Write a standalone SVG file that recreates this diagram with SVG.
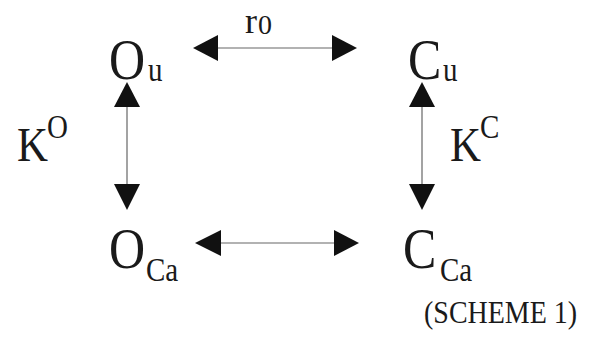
<svg xmlns="http://www.w3.org/2000/svg" width="600" height="341" viewBox="0 0 600 341">
<style>
text{font-family:"Liberation Serif","Times New Roman",serif;fill:#1a1a1a}
.big{font-size:50px}
.sub{font-size:29px}
.k{font-size:43px}
.sup{font-size:29px}
.line{stroke:#666;stroke-width:1.2;fill:none}
.head{fill:#111}
</style>
<rect width="600" height="341" fill="#fff"/>
<g id="connectors">
<g id="top">
<line class="line" x1="218" y1="48" x2="332" y2="48"/>
<polygon class="head" points="193,48 218,35 218,61"/>
<polygon class="head" points="357,48 332,35 332,61"/>
</g>
<g id="bottom">
<line class="line" x1="221" y1="243" x2="334" y2="243"/>
<polygon class="head" points="195,243 221,230 221,256"/>
<polygon class="head" points="359,243 334,230 334,256"/>
</g>
<g id="left">
<line class="line" x1="127" y1="107" x2="127" y2="184"/>
<polygon class="head" points="127,82 114,107 140,107"/>
<polygon class="head" points="127,210 114,184 140,184"/>
</g>
<g id="right">
<line class="line" x1="422" y1="107" x2="422" y2="184"/>
<polygon class="head" points="422,82 409,107 435,107"/>
<polygon class="head" points="422,210 409,184 435,184"/>
</g>
</g>
<g id="Ou"><text class="big" transform="translate(109,79) scale(1,1.15)">O</text><text class="sub" transform="translate(148,81) scale(1,1.15)">u</text></g>
<g id="Cu"><text class="big" transform="translate(408,79) scale(1,1.15)">C</text><text class="sub" transform="translate(443,81) scale(1,1.15)">u</text></g>
<g id="r0"><text x="245" y="33" style="font-size:36px">r</text><text x="258" y="34" style="font-size:28px">0</text></g>
<g id="KO"><text class="k" transform="translate(17,161) scale(1,1.15)">K</text><text class="sup" transform="translate(47,138) scale(1,1.15)">O</text></g>
<g id="KC"><text class="k" transform="translate(450,161) scale(1,1.15)">K</text><text class="sup" transform="translate(480,138) scale(1,1.15)">C</text></g>
<g id="OCa"><text class="big" transform="translate(109,268) scale(1,1.15)">O</text><text class="sub" transform="translate(146,281) scale(1,1.15)">Ca</text></g>
<g id="CCa"><text class="big" transform="translate(403,268) scale(1,1.15)">C</text><text class="sub" transform="translate(440,281) scale(1,1.15)">Ca</text></g>
<g id="scheme"><text transform="translate(424,323) scale(1,1.1)" style="font-size:28px">(SCHEME 1)</text></g>
</svg>
